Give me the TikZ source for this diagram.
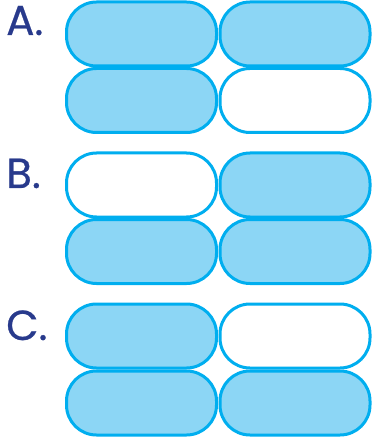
\documentclass[tikz,border=0pt]{standalone}
\usepackage{fontspec}
\setmainfont{Poppins}
\newfontfamily\labfont{Poppins}[FakeBold=0.6]
\definecolor{boxline}{RGB}{0,174,239}
\definecolor{boxfill}{RGB}{140,214,245}
\definecolor{lettercol}{RGB}{40,58,140}
\begin{document}
\begin{tikzpicture}[x=1pt,y=-1pt,
  cell/.style={rectangle, rounded corners=30pt, draw=boxline, line width=3pt,
    minimum width=150pt, minimum height=64pt, inner sep=0pt},
  on/.style={cell, fill=boxfill},
  off/.style={cell, fill=white},
  lab/.style={anchor=base west, inner sep=0pt, text=lettercol, font=\labfont\fontsize{42}{42}\selectfont}]
\useasboundingbox (0,0) rectangle (373,443);
% A
\node[lab] (la) at (6,35) {A.};
\node[on]  (a1) at (141.5,34) {};
\node[on]  (a2) at (295,34) {};
\node[on]  (a3) at (141.5,100.5) {};
\node[off] (a4) at (295,100.5) {};
% B
\node[lab] (lb) at (6,188) {B.};
\node[off] (b1) at (141.5,185) {};
\node[on]  (b2) at (295,185) {};
\node[on]  (b3) at (141.5,251.5) {};
\node[on]  (b4) at (295,251.5) {};
% C
\node[lab] (lc) at (6,340) {C.};
\node[on]  (c1) at (141.5,336) {};
\node[off] (c2) at (295,336) {};
\node[on]  (c3) at (141.5,403) {};
\node[on]  (c4) at (295,403) {};
\end{tikzpicture}
\end{document}
